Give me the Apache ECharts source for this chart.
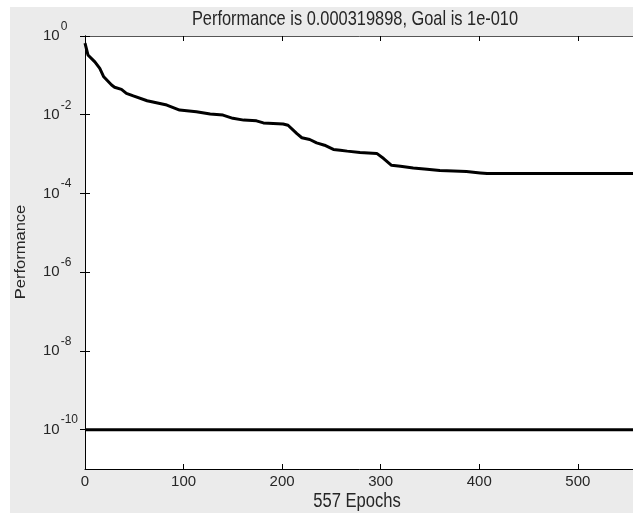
<!DOCTYPE html>
<html><head><meta charset="utf-8">
<script src="https://cdn.jsdelivr.net/npm/echarts@6/dist/echarts.min.js"></script>
<style>html,body{margin:0;padding:0;background:#fff}#c{width:633px;height:513px}</style>
</head><body><div id="c"></div>
<script>
var titleText = 'Performance is 0.000319898, Goal is 1e-010';
var xLabel = '557 Epochs';
var yLabel = 'Performance';
var xTicks = [0, 100, 200, 300, 400, 500];
var yTicks = [1e-10, 1e-8, 1e-6, 1e-4, 1e-2, 1];
var epochs = [0, 3, 10, 15, 19, 27, 30, 37, 42, 49, 63, 83, 96, 113, 127, 140, 150, 161, 174, 181, 201, 206, 215, 220, 228, 235, 243, 252, 259, 266, 279, 296, 303, 311, 320, 333, 347, 360, 374, 387, 401, 408, 557];
var perf = [0.66, 0.33, 0.22, 0.15, 0.092, 0.057, 0.050, 0.044, 0.035, 0.030, 0.0226, 0.0176, 0.0131, 0.0119, 0.0104, 0.0098, 0.0081, 0.0073, 0.0070, 0.0062, 0.0058, 0.0054, 0.0033, 0.0026, 0.00235, 0.00193, 0.00168, 0.00131, 0.00126, 0.00119, 0.0011, 0.00104, 0.00077, 0.00052, 0.00049, 0.000446, 0.000413, 0.000383, 0.000374, 0.000361, 0.000333, 0.00032, 0.000319898];
var goalEpochs = [0, 557];
var goalPerf = [1e-10, 1e-10];

var chart = echarts.init(document.getElementById('c'), null, {renderer: 'canvas'});
var font = '"Liberation Sans", Arial, sans-serif';
var txt = '#262626';
function pairs(xs, ys) { return xs.map(function (x, i) { return [x, ys[i]]; }); }
var tickStyle = {show: true, inside: true, length: 5, lineStyle: {color: '#000', width: 1}};
chart.setOption({
  animation: false,
  backgroundColor: '#fff',
  graphic: [
    {type: 'rect', z: -10, silent: true, shape: {x: 10, y: 7, width: 623, height: 506}, style: {fill: '#ebebeb'}},
    {type: 'text', silent: true, x: 355, y: 19.5, scaleY: 1.2,
      style: {text: titleText, font: '16.4px ' + font, fill: txt, align: 'center', verticalAlign: 'middle'}},
    {type: 'text', silent: true, x: 357, y: 502, scaleY: 1.2,
      style: {text: xLabel, font: '16.6px ' + font, fill: txt, align: 'center', verticalAlign: 'middle'}},
    {type: 'text', silent: true, x: 21, y: 252, rotation: Math.PI / 2, scaleX: 1.18,
      style: {text: yLabel, font: '14px ' + font, fill: txt, align: 'center', verticalAlign: 'middle'}}
  ],
  grid: {left: 85, top: 36, width: 549, height: 433, show: true, backgroundColor: '#fff', borderWidth: 0, containLabel: false, outerBoundsMode: 'none'},
  xAxis: [{
    type: 'value', min: 0, max: 557, position: 'bottom',
    axisLine: {show: true, lineStyle: {color: '#000', width: 1}},
    axisTick: Object.assign({customValues: xTicks}, tickStyle),
    axisLabel: {customValues: xTicks, fontFamily: font, fontSize: 15, color: txt, margin: 5},
    splitLine: {show: false}
  }, {
    type: 'value', min: 0, max: 557, position: 'top',
    axisLine: {show: true, lineStyle: {color: '#555', width: 1}},
    axisTick: Object.assign({customValues: xTicks}, tickStyle),
    axisLabel: {show: false}, splitLine: {show: false}
  }],
  yAxis: [{
    type: 'log', logBase: 10, min: 1e-11, max: 1, position: 'left',
    axisLine: {show: true, lineStyle: {color: '#000', width: 1}},
    axisTick: Object.assign({customValues: yTicks}, tickStyle),
    axisLabel: {
      customValues: yTicks, align: 'left', margin: 42,
      formatter: function (v) { var e = Math.round(Math.log10(v)); return '{b|10}{s|' + e + '}'; },
      rich: {
        b: {fontFamily: font, fontSize: 15, color: txt},
        s: {fontFamily: font, fontSize: 12, color: txt, padding: [0, 0, 19, 1]}
      }
    },
    splitLine: {show: false}
  }, {
    type: 'log', logBase: 10, min: 1e-11, max: 1, position: 'right',
    axisLine: {show: true, lineStyle: {color: '#000', width: 1}},
    axisTick: Object.assign({customValues: yTicks}, tickStyle),
    axisLabel: {show: false}, splitLine: {show: false}
  }],
  series: [{
    type: 'line', data: pairs(epochs, perf), showSymbol: false, symbol: 'none',
    lineStyle: {color: '#000', width: 3}, xAxisIndex: 0, yAxisIndex: 0
  }, {
    type: 'line', data: pairs(goalEpochs, goalPerf), showSymbol: false, symbol: 'none',
    lineStyle: {color: '#000', width: 3}, xAxisIndex: 0, yAxisIndex: 0
  }]
});
</script></body></html>
